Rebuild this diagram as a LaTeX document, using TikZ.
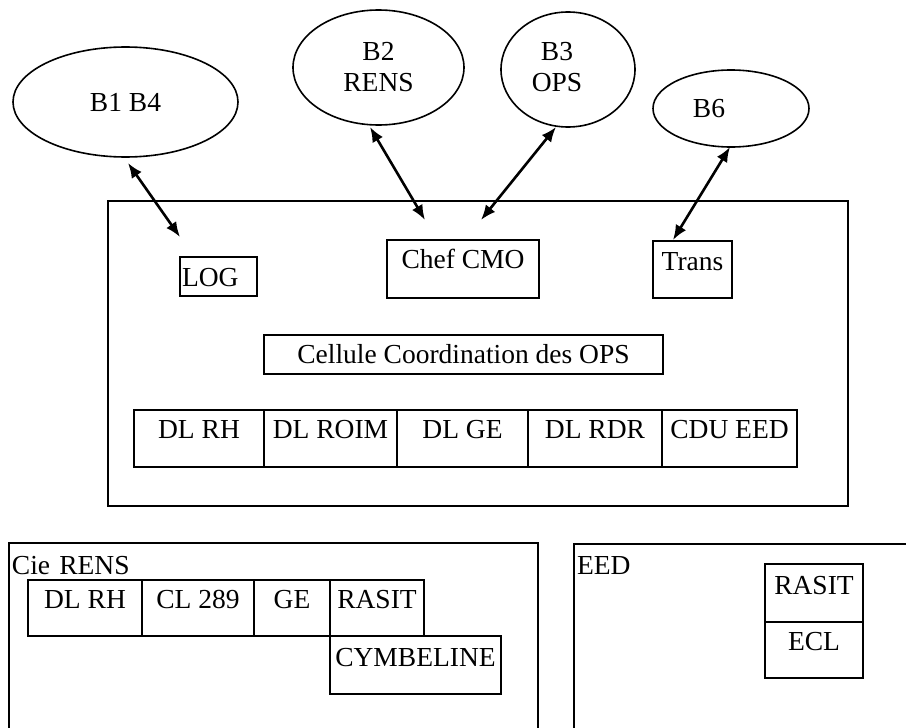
\documentclass[tikz,border=0pt]{standalone}
\usepackage{fontspec}
\setmainfont{Liberation Serif}
\usetikzlibrary{shapes.geometric,arrows.meta}
\begin{document}
\begin{tikzpicture}[x=1pt,y=-1pt,
  every node/.style={font=\fontsize{27.5}{31}\selectfont},
  boxed/.style={draw, line width=2pt, inner sep=0pt, anchor=north west},
  oval/.style={draw, ellipse, line width=1.6pt, inner sep=0pt, align=center},
  link/.style={line width=2.6pt, {Latex[length=15pt,width=12pt]}-{Latex[length=15pt,width=12pt]}}]
\useasboundingbox (0,0) rectangle (906,728);
\clip (0,0) rectangle (906,728);
\fill[white] (0,0) rectangle (906,728);

% ellipses
\node[oval, minimum width=225pt, minimum height=110pt] (b14) at (125.5,102) {B1 B4};
\node[oval, minimum width=171pt, minimum height=115pt] (b2) at (378.5,67.5) {B2\\RENS};
\node[oval, minimum width=134pt, minimum height=115pt] (b3) at (568,69.5) {\begin{tabular}{@{}c@{}}B3\\OPS\end{tabular}\hspace*{22pt}};
\node[oval, minimum width=156pt, minimum height=77pt] (b6) at (731,108.5) {B6\hspace*{44pt}};

% main box
\node[boxed, minimum width=740pt, minimum height=305pt] (cmo) at (107,200) {};
\node[boxed, text width=73pt, inner xsep=2pt, align=left, text height=29pt, text depth=10pt] (log) at (179,256) {LOG};
\node[boxed, minimum width=152pt, text height=28pt, text depth=30pt] (chef) at (386,239) {Chef CMO};
\node[boxed, minimum width=79pt, text height=29pt, text depth=28pt] (trans) at (652,240) {Trans};
\node[boxed, minimum width=399pt, text height=28pt, text depth=11pt] (cell) at (263,334) {Cellule Coordination des OPS};
\node[boxed, minimum width=130pt, text height=28pt, text depth=29pt] (dlrh) at (133,409) {DL RH};
\node[boxed, minimum width=133pt, text height=28pt, text depth=29pt] (dlroim) at (263,409) {DL ROIM};
\node[boxed, minimum width=131pt, text height=28pt, text depth=29pt] (dlge) at (396,409) {DL GE};
\node[boxed, minimum width=134pt, text height=28pt, text depth=29pt] (dlrdr) at (527,409) {DL RDR};
\node[boxed, minimum width=135pt, text height=28pt, text depth=29pt] (cdu) at (661,409) {CDU EED};

% arrows
\coordinate (a1s) at (128,163); \coordinate (a1e) at (180,237);
\coordinate (a2s) at (370,127); \coordinate (a2e) at (425,220);
\coordinate (a3s) at (556,127); \coordinate (a3e) at (481,220);
\coordinate (a4s) at (730,147); \coordinate (a4e) at (673,240);
\draw[link] (a1s) -- (a1e);
\draw[link] (a2s) -- (a2e);
\draw[link] (a3s) -- (a3e);
\draw[link] (a4s) -- (a4e);

% Cie RENS
\node[boxed, text width=523pt, inner xsep=3pt, align=left, text height=31pt, text depth=169pt] (cie) at (8,542) {Cie RENS};
\node[boxed, minimum width=114pt, text height=28pt, text depth=28pt] (crh) at (27,579) {DL RH};
\node[boxed, minimum width=112pt, text height=28pt, text depth=28pt] (ccl) at (141,579) {CL 289};
\node[boxed, minimum width=76pt, text height=28pt, text depth=28pt] (cge) at (253,579) {GE};
\node[boxed, minimum width=94pt, text height=28pt, text depth=28pt] (cras) at (329,579) {RASIT};
\node[boxed, minimum width=171pt, text height=30pt, text depth=28pt] (cym) at (329,635) {CYMBELINE};

% EED
\node[boxed, text width=394pt, inner xsep=3pt, align=left, text height=30pt, text depth=170pt] (eed) at (573,543) {EED};
\node[boxed, minimum width=98pt, text height=30pt, text depth=28pt] (eras) at (764,563) {RASIT};
\node[boxed, minimum width=98pt, text height=28pt, text depth=28pt] (ecl) at (764,621) {ECL};
\end{tikzpicture}
\end{document}
